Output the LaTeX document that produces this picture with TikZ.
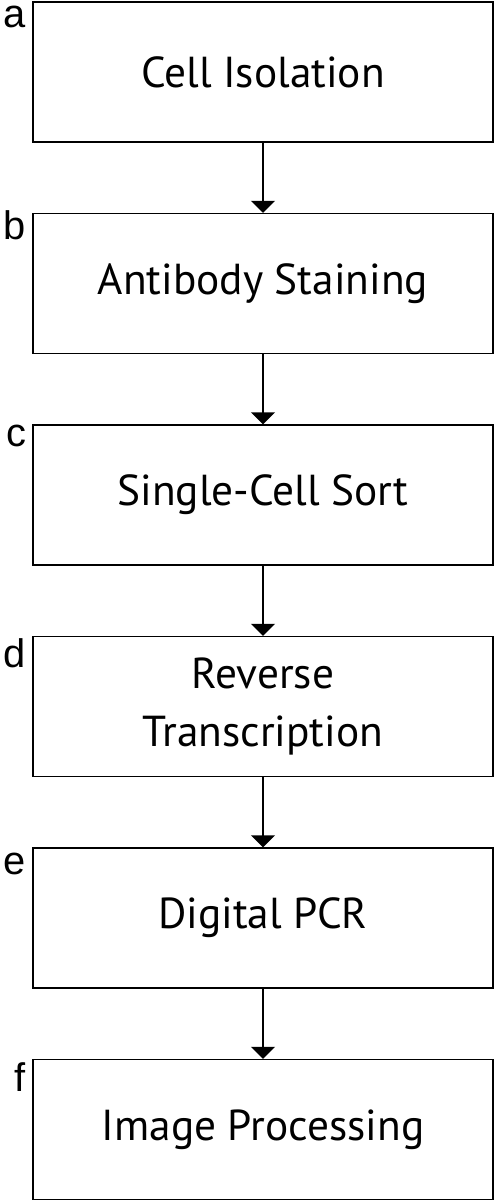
\documentclass[tikz,border=0pt]{standalone}
\usepackage{fontspec}
\setmainfont{PT Sans}
\newfontfamily\tagfont{Liberation Sans}
\usetikzlibrary{positioning, calc, arrows.meta}

\tikzset{
  stepbox/.style={draw, line width=1.5bp, minimum width=460bp, minimum height=140bp,
    align=center, font=\fontsize{43.5}{58}\selectfont, inner sep=0pt},
  tag/.style={font=\tagfont\fontsize{40}{40}\selectfont, inner sep=0pt, anchor=base east},
  flow/.style={->, line width=1.5bp, >={Triangle[width=24bp, length=12bp]}}
}

\begin{document}
\begin{tikzpicture}[x=1bp, y=-1bp]
  \useasboundingbox (0,0) rectangle (494,1202);
  % process steps
  \node[stepbox] (isol) at (263,72) {Cell Isolation};
  \node[stepbox, below=70bp of isol] (stain) {Antibody Staining};
  \node[stepbox, below=70bp of stain] (sort) {Single-Cell Sort};
  \node[stepbox, below=70bp of sort] (rt) {Reverse\\Transcription};
  \node[stepbox, below=70bp of rt] (pcr) {Digital PCR};
  \node[stepbox, below=70bp of pcr] (imgproc) {Image Processing};
  % panel letters
  \node[tag] (la) at ($(isol.north west)+(-6,26)$) {a};
  \node[tag] (lb) at ($(stain.north west)+(-6,27)$) {b};
  \node[tag] (lc) at ($(sort.north west)+(-6,22)$) {c};
  \node[tag] (ld) at ($(rt.north west)+(-6,32)$) {d};
  \node[tag] (le) at ($(pcr.north west)+(-6,27)$) {e};
  \node[tag] (lf) at ($(imgproc.north west)+(-6,33)$) {f};
  % arrows
  \draw[flow] (isol) -- (stain);
  \draw[flow] (stain) -- (sort);
  \draw[flow] (sort) -- (rt);
  \draw[flow] (rt) -- (pcr);
  \draw[flow] (pcr) -- (imgproc);
\end{tikzpicture}
\end{document}
